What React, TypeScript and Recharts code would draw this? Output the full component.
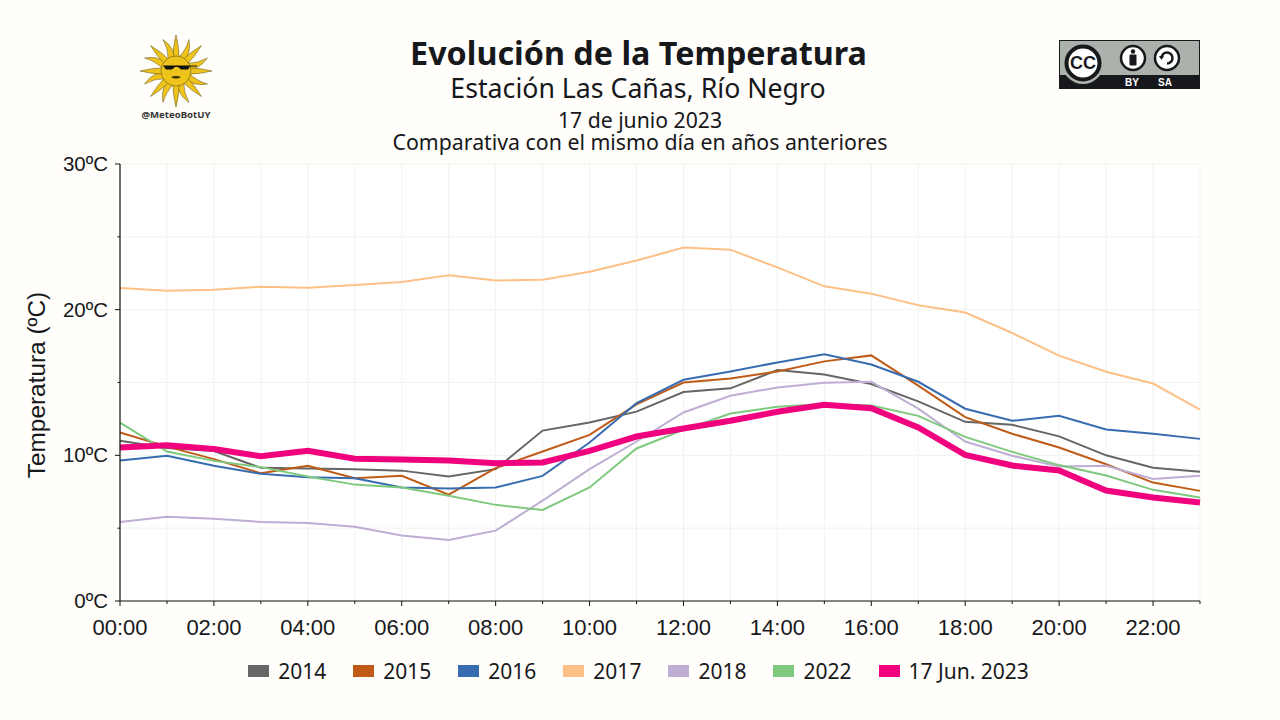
import { CartesianGrid, Line, LineChart, XAxis, YAxis } from "recharts";

const hours = [
  "00:00", "01:00", "02:00", "03:00", "04:00", "05:00", "06:00", "07:00",
  "08:00", "09:00", "10:00", "11:00", "12:00", "13:00", "14:00", "15:00",
  "16:00", "17:00", "18:00", "19:00", "20:00", "21:00", "22:00", "23:00",
];
const yTicks = [0, 5, 10, 15, 20, 25, 30];

const t2014 = [11.0, 10.5, 10.3, 9.14, 9.1, 9.05, 8.95, 8.55, 9.05, 11.7, 12.25, 13.0, 14.35, 14.6, 15.85, 15.55, 14.9, 13.7, 12.3, 12.1, 11.3, 10.0, 9.15, 8.87];
const t2015 = [11.57, 10.6, 9.74, 8.77, 9.28, 8.43, 8.59, 7.3, 9.12, 10.26, 11.4, 13.5, 15.0, 15.28, 15.76, 16.45, 16.86, 14.78, 12.62, 11.48, 10.54, 9.39, 8.13, 7.56];
const t2016 = [9.64, 9.97, 9.28, 8.73, 8.5, 8.43, 7.79, 7.72, 7.79, 8.59, 10.88, 13.58, 15.19, 15.76, 16.38, 16.93, 16.24, 15.05, 13.2, 12.37, 12.71, 11.77, 11.48, 11.13];
const t2017 = [21.48, 21.3, 21.37, 21.58, 21.5, 21.7, 21.9, 22.37, 22.0, 22.06, 22.6, 23.37, 24.26, 24.12, 22.9, 21.6, 21.1, 20.3, 19.8, 18.4, 16.84, 15.74, 14.93, 13.13];
const t2018 = [5.43, 5.79, 5.64, 5.43, 5.36, 5.1, 4.49, 4.19, 4.83, 6.89, 9.05, 10.95, 12.94, 14.09, 14.66, 14.98, 15.05, 13.2, 10.95, 9.97, 9.23, 9.28, 8.38, 8.59];
const t2022 = [12.25, 10.26, 9.62, 9.19, 8.54, 7.99, 7.79, 7.22, 6.6, 6.25, 7.79, 10.47, 11.75, 12.87, 13.33, 13.52, 13.42, 12.71, 11.27, 10.24, 9.33, 8.61, 7.63, 7.1];
const t2023 = [10.54, 10.7, 10.43, 9.94, 10.31, 9.76, 9.71, 9.64, 9.46, 9.51, 10.3, 11.29, 11.84, 12.37, 12.99, 13.47, 13.24, 11.91, 10.03, 9.3, 8.96, 7.58, 7.1, 6.76];

const seriesList = [
  { key: "2014", values: t2014, color: "#666666", width: 2 },
  { key: "2015", values: t2015, color: "#bf5b17", width: 2 },
  { key: "2016", values: t2016, color: "#386cb0", width: 2 },
  { key: "2017", values: t2017, color: "#fdc086", width: 2 },
  { key: "2018", values: t2018, color: "#beaed4", width: 2 },
  { key: "2022", values: t2022, color: "#7fc97f", width: 2 },
  { key: "17 Jun. 2023", values: t2023, color: "#f0027f", width: 6 },
];

const chartData = hours.map((hour, i) => {
  const row: Record<string, string | number> = { hour };
  seriesList.forEach((s) => {
    row[s.key] = s.values[i];
  });
  return row;
});

const INK = "#17181c";
const AXIS_FONT = "'Liberation Sans', Arial, sans-serif";
const TITLE_FONT = "'Noto Sans', sans-serif";

function XTick({ x, y, payload, index }: any) {
  const major = index % 2 === 0;
  return (
    <g>
      <line x1={x} x2={x} y1={y} y2={y + (major ? 5 : 3)} stroke="#111" strokeWidth={1} />
      {major && (
        <text x={x} y={y + 34} textAnchor="middle" fontFamily={AXIS_FONT} fontSize={22} fill={INK}>
          {payload.value}
        </text>
      )}
    </g>
  );
}

function YTick({ x, y, payload }: any) {
  const major = payload.value % 10 === 0;
  return (
    <g>
      <line x1={x - (major ? 5 : 2.5)} x2={x} y1={y} y2={y} stroke="#111" strokeWidth={1} />
      {major && (
        <text x={x - 12} y={y + 7} textAnchor="end" fontFamily={AXIS_FONT} fontSize={20.5} fill={INK}>
          {`${payload.value}ºC`}
        </text>
      )}
    </g>
  );
}

function YAxisTitle() {
  return (
    <text
      transform="translate(45 385) rotate(-90)"
      textAnchor="middle"
      fontFamily={AXIS_FONT}
      fontSize={24.4}
      fill={INK}
    >
      Temperatura (ºC)
    </text>
  );
}

// small sun badge, rays alternate straight and wavy
function SunLogo() {
  const cx = 176;
  const cy = 71;
  const rays = Array.from({ length: 16 }, (_, i) => i);
  return (
    <svg width={300} height={130} style={{ position: "absolute", left: 0, top: 0 }}>
      {rays.map((i) => {
        const a = (i * 22.5 * Math.PI) / 180;
        const wavy = i % 2 === 1;
        const r = wavy ? 34 : 36;
        const tip = `${cx + Math.sin(a) * r} ${cy - Math.cos(a) * r}`;
        const bl = `${cx + Math.sin(a - 0.24) * 13} ${cy - Math.cos(a - 0.24) * 13}`;
        const br = `${cx + Math.sin(a + 0.24) * 13} ${cy - Math.cos(a + 0.24) * 13}`;
        const bend = wavy ? 0.2 : 0;
        const m1 = `${cx + Math.sin(a - 0.14 + bend) * 23} ${cy - Math.cos(a - 0.14 + bend) * 23}`;
        const m2 = `${cx + Math.sin(a + 0.14 + bend) * 23} ${cy - Math.cos(a + 0.14 + bend) * 23}`;
        return (
          <path
            key={i}
            d={`M${bl} Q${m1} ${tip} Q${m2} ${br} Z`}
            fill="#eec31b"
            stroke="#5a4a10"
            strokeWidth={0.5}
          />
        );
      })}
      <circle cx={cx} cy={cy} r={15} fill="#eec31b" stroke="#6b5a14" strokeWidth={0.6} />
      <path d="M163 65.5 H197 V66.5 H190 L188 69.5 H181 L178 67 H175 L172 69.5 H166 Z" fill="#111" />
      <path d="M171 77 Q176 75 181 77 Q176 80 171 77 Z" fill="#3a2c08" />
      <text x={176} y={118} textAnchor="middle" fontFamily={TITLE_FONT} fontWeight={700} fontSize={9.6} fill="#333">
        @MeteoBotUY
      </text>
    </svg>
  );
}

function CcBadge() {
  return (
    <svg width={142} height={50} style={{ position: "absolute", left: 1059, top: 40 }}>
      <rect x={0} y={0} width={141} height={49} fill="#aab2ab" />
      <rect x={0} y={35} width={141} height={14} fill="#17181c" />
      <rect x={0.5} y={0.5} width={140} height={48} fill="none" stroke="#17181c" strokeWidth={1} />
      <circle cx={24} cy={23} r={21} fill="#aab2ab" />
      <circle cx={24} cy={23} r={16.5} fill="#fff" stroke="#17181c" strokeWidth={4} />
      <text x={24} y={29} textAnchor="middle" fontFamily={AXIS_FONT} fontWeight={700} fontSize={18} fill="#17181c">
        CC
      </text>
      <circle cx={74} cy={18} r={12} fill="#fff" stroke="#17181c" strokeWidth={2.5} />
      <circle cx={74} cy={11.5} r={2.2} fill="#17181c" />
      <rect x={70.5} y={14.5} width={7} height={11} rx={1} fill="#17181c" />
      <circle cx={108} cy={18} r={12} fill="#fff" stroke="#17181c" strokeWidth={2.5} />
      <path d="M102.5 18 A5.5 5.5 0 1 1 108 23.5" fill="none" stroke="#17181c" strokeWidth={2.5} />
      <path d="M100 16 L105 16 L102.5 20 Z" fill="#17181c" />
      <text x={73} y={46} textAnchor="middle" fontFamily={AXIS_FONT} fontWeight={700} fontSize={10} fill="#fff">
        BY
      </text>
      <text x={106} y={46} textAnchor="middle" fontFamily={AXIS_FONT} fontWeight={700} fontSize={10} fill="#fff">
        SA
      </text>
    </svg>
  );
}

function TitleLine({ top, size, weight, shift, children }: any) {
  return (
    <div
      style={{
        position: "absolute",
        left: shift,
        width: 1280,
        top,
        textAlign: "center",
        fontFamily: TITLE_FONT,
        fontSize: size,
        fontWeight: weight,
        lineHeight: "1",
        color: INK,
      }}
    >
      {children}
    </div>
  );
}

function Legend() {
  return (
    <div
      style={{
        position: "absolute",
        left: -1.5,
        top: 659,
        width: 1280,
        display: "flex",
        justifyContent: "center",
        gap: 27,
        fontFamily: TITLE_FONT,
        fontSize: 21,
        lineHeight: "24px",
        color: INK,
      }}
    >
      {seriesList.map((s) => (
        <div key={s.key} style={{ display: "flex", alignItems: "center", gap: 9 }}>
          <span style={{ width: 21, height: 12, background: s.color, display: "inline-block" }} />
          {s.key}
        </div>
      ))}
    </div>
  );
}

export default function App() {
  return (
    <div
      style={{
        position: "absolute",
        left: 0,
        top: 0,
        width: 1280,
        height: 720,
        background: "#fffefa",
        overflow: "hidden",
      }}
    >
      <LineChart
        width={1280}
        height={720}
        data={chartData}
        margin={{ top: 164, right: 80, bottom: 79, left: 60 }}
      >
        <CartesianGrid stroke="#f1f1ee" strokeWidth={1} fill="#ffffff" />
        <XAxis
          dataKey="hour"
          interval={0}
          height={40}
          tick={XTick}
          tickLine={false}
          tickSize={0}
          tickMargin={0}
          axisLine={{ stroke: "#111", strokeWidth: 1.2 }}
        />
        <YAxis
          domain={[0, 30]}
          ticks={yTicks}
          width={60}
          tick={YTick}
          tickLine={false}
          tickSize={0}
          tickMargin={0}
          axisLine={{ stroke: "#111", strokeWidth: 1.2 }}
          label={YAxisTitle}
        />
        {seriesList.map((s) => (
          <Line
            key={s.key}
            dataKey={s.key}
            type="linear"
            stroke={s.color}
            strokeWidth={s.width}
            dot={false}
            isAnimationActive={false}
          />
        ))}
      </LineChart>
      <SunLogo />
      <CcBadge />
      <TitleLine top={36} size={32.3} weight={700} shift={-1.5}>Evolución de la Temperatura</TitleLine>
      <TitleLine top={75} size={26.7} weight={400} shift={-2}>Estación Las Cañas, Río Negro</TitleLine>
      <TitleLine top={108.5} size={21.2} weight={400} shift={0}>17 de junio 2023</TitleLine>
      <TitleLine top={131} size={21.3} weight={400} shift={0}>Comparativa con el mismo día en años anteriores</TitleLine>
      <Legend />
    </div>
  );
}
